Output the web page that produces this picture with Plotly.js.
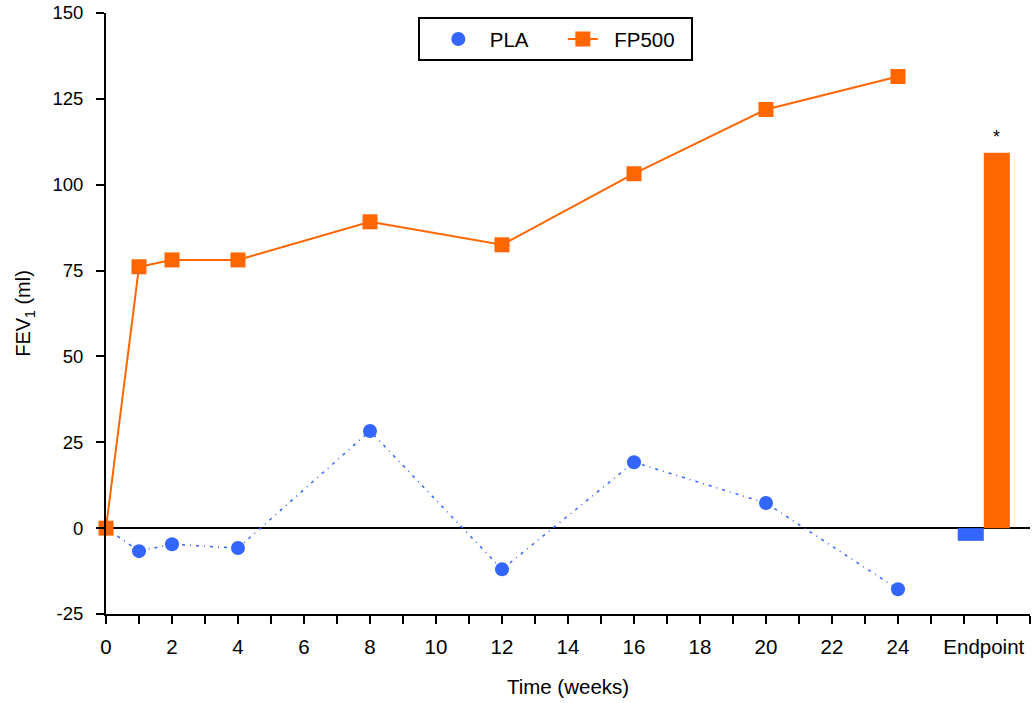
<!DOCTYPE html>
<html>
<head>
<meta charset="utf-8">
<script src="https://cdn.plot.ly/plotly-3.0.1.min.js"></script>
<style>html,body{margin:0;padding:0;background:#fff;}#chart{width:1034px;height:703px;}</style>
</head>
<body>
<div id="chart"></div>
<script>
// Data
const weeks = [0, 1, 2, 4, 8, 12, 16, 20, 24];
const plaValues = [0, -6.7, -4.7, -5.8, 28.3, -12, 19.2, 7.3, -17.8];
const fp500Values = [0, 76.1, 78.1, 78.1, 89.2, 82.5, 103.2, 121.9, 131.5];
const endpointLabel = 'Endpoint';
const endpointPos = 26.6;
const endpointPLA = -3.7;
const endpointFP500 = 109.3;
const xTickVals = [0, 2, 4, 6, 8, 10, 12, 14, 16, 18, 20, 22, 24];
const yTickVals = [-25, 0, 25, 50, 75, 100, 125, 150];
const yTickText = ['-25', '0', '25', '50', '75', '100', '125', '150'];

const blue = '#3366FF';
const orange = '#FF6600';
const font = 'Liberation Sans, Arial, sans-serif';
const sp = n => '\u00A0'.repeat(n);

const traces = [
  {
    x: weeks, y: plaValues, type: 'scatter', mode: 'lines',
    line: {color: blue, width: 1.5, dash: '3px,5px,1px,5px'},
    showlegend: false, hoverinfo: 'skip', cliponaxis: false
  },
  {
    x: weeks, y: plaValues, type: 'scatter', mode: 'markers', name: sp(2) + 'PLA' + sp(2),
    marker: {color: blue, size: 14, symbol: 'circle'}, cliponaxis: false
  },
  {
    x: weeks, y: fp500Values, type: 'scatter', mode: 'lines+markers', name: sp(2) + 'FP500' + sp(2),
    line: {color: orange, width: 2},
    marker: {color: orange, size: 15, symbol: 'square'}, cliponaxis: false
  },
  {
    x: [endpointPos], y: [endpointPLA], type: 'bar', width: 0.79, offset: -0.79,
    marker: {color: blue}, showlegend: false
  },
  {
    x: [endpointPos], y: [endpointFP500], type: 'bar', width: 0.79, offset: 0,
    marker: {color: orange}, showlegend: false
  },
  // dummy trace so that xaxis2 (labels) is drawn
  {x: [0], y: [null], xaxis: 'x2', type: 'scatter', mode: 'markers', showlegend: false, hoverinfo: 'skip'}
];

const layout = {
  width: 1034, height: 703,
  margin: {l: 105.5, r: 3.5, t: 13, b: 89},
  paper_bgcolor: '#fff', plot_bgcolor: '#fff',
  font: {family: font, size: 20, color: '#000'},
  showlegend: true,
  legend: {
    orientation: 'h', x: 0.338, xanchor: 'left', y: 0.993, yanchor: 'top',
    bordercolor: '#000', borderwidth: 2, bgcolor: '#fff',
    indentation: 18,
    font: {family: font, size: 20.5, color: '#000'}
  },
  xaxis: {
    range: [0, 28], showgrid: false, zeroline: false,
    showline: true, linecolor: '#000', linewidth: 2,
    ticks: 'outside', ticklen: 8, tickwidth: 2, tickcolor: '#000',
    tickmode: 'linear', tick0: 0, dtick: 1, showticklabels: false,
    fixedrange: true
  },
  xaxis2: {
    range: [0, 28], overlaying: 'x', side: 'bottom', matches: 'x',
    showgrid: false, zeroline: false, showline: false, ticks: '',
    tickmode: 'array', tickvals: xTickVals.concat([endpointPos]),
    ticktext: xTickVals.map(String).concat([endpointLabel]),
    ticklabelstandoff: 18,
    tickfont: {family: font, size: 20.5, color: '#000'},
    title: {text: 'Time (weeks)', font: {family: font, size: 20.5, color: '#000'}, standoff: 23}
  },
  yaxis: {
    range: [-25, 150], showgrid: false,
    zeroline: true, zerolinecolor: '#000', zerolinewidth: 2,
    showline: true, linecolor: '#000', linewidth: 2,
    ticks: 'outside', ticklen: 8, tickwidth: 2, tickcolor: '#000',
    tickmode: 'array', tickvals: yTickVals, ticktext: yTickText,
    ticklabelstandoff: 9,
    tickfont: {family: font, size: 18.5, color: '#000'},
    title: {text: 'FEV<sub>1</sub> (ml)', font: {family: font, size: 20, color: '#000'}, standoff: 16},
    fixedrange: true
  },
  annotations: [{
    x: endpointPos + 0.395, y: endpointFP500, xref: 'x', yref: 'y',
    text: '*', showarrow: false, yanchor: 'bottom', yshift: 4,
    font: {family: font, size: 18, color: '#000'}
  }]
};

Plotly.newPlot('chart', traces, layout, {displayModeBar: false, staticPlot: true});
</script>
</body>
</html>
